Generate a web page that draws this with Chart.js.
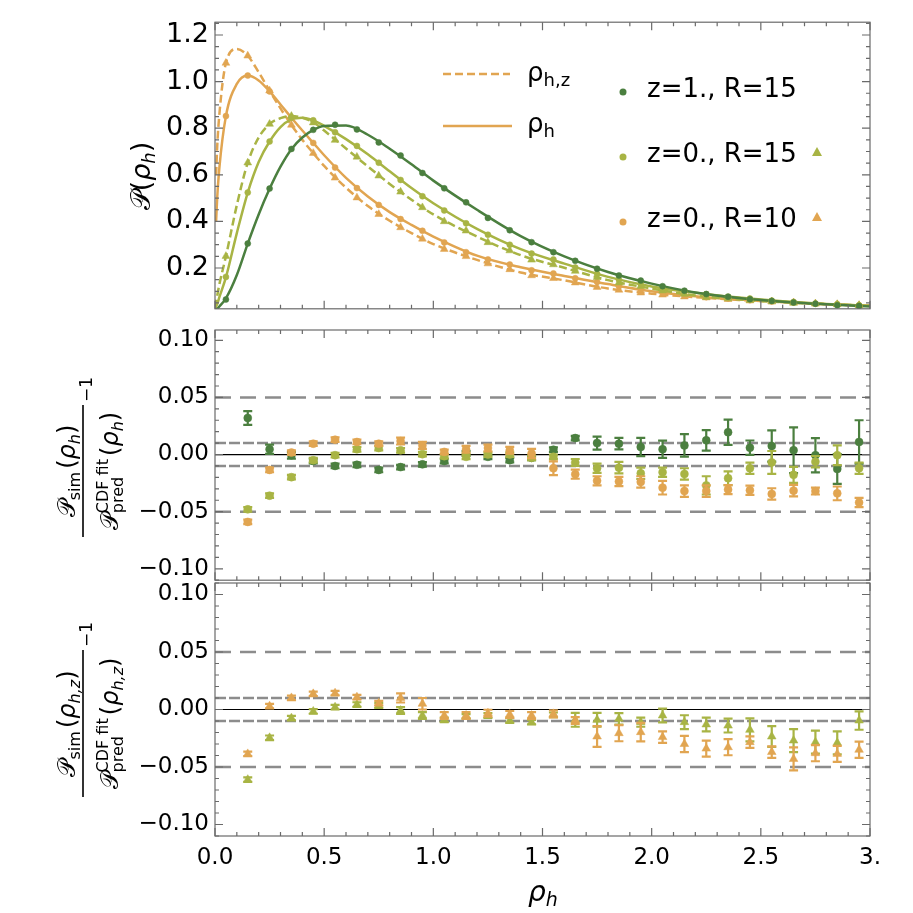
<!DOCTYPE html>
<html>
<head>
<meta charset="utf-8">
<script src="https://cdn.jsdelivr.net/npm/chart.js@4.4.1/dist/chart.umd.min.js"></script>
<style>
  body { margin: 0; background: #fff; }
  #wrap { position: relative; width: 913px; height: 913px; }
  #wrap canvas { position: absolute; left: 0; }
</style>
</head>
<body>
<div id="wrap">
  <canvas id="c1" width="913" height="331" style="top:0px"></canvas>
  <canvas id="c2" width="913" height="300" style="top:300px"></canvas>
  <canvas id="c3" width="913" height="353" style="top:560px"></canvas>
</div>
<script>
const FONT = "'DejaVu Sans', 'Liberation Sans', sans-serif";
const C_DARK = '#4b7f3f';
const C_LIGHT = '#a8b444';
const C_ORANGE = '#e1a551';
const C_REF = '#8c8c8c';

// bin centres of the simulated points
const xBins = [0.05, 0.15, 0.25, 0.35, 0.45, 0.55, 0.65, 0.75, 0.85, 0.95,
               1.05, 1.15, 1.25, 1.35, 1.45, 1.55, 1.65, 1.75, 1.85, 1.95,
               2.05, 2.15, 2.25, 2.35, 2.45, 2.55, 2.65, 2.75, 2.85, 2.95];

// top panel: simulated P(rho)
const pDarkCirc = [0.065, 0.305, 0.541, 0.711, 0.793, 0.815, 0.795, 0.739, 0.683, 0.608,
                   0.542, 0.482, 0.415, 0.362, 0.311, 0.268, 0.231, 0.197, 0.168, 0.146,
                   0.122, 0.103, 0.088, 0.077, 0.066, 0.059, 0.052, 0.047, 0.040, 0.037];
const pLightCirc = [0.162, 0.524, 0.743, 0.845, 0.834, 0.783, 0.724, 0.652, 0.578, 0.508,
                    0.447, 0.392, 0.343, 0.300, 0.262, 0.237, 0.202, 0.175, 0.150, 0.131,
                    0.112, 0.100, 0.088, 0.077, 0.069, 0.060, 0.054, 0.047, 0.044, 0.040];
const pLightTri = [0.251, 0.652, 0.818, 0.852, 0.824, 0.749, 0.677, 0.596, 0.527, 0.460,
                   0.400, 0.360, 0.310, 0.275, 0.235, 0.215, 0.187, 0.160, 0.137, 0.122,
                   0.103, 0.088, 0.075, 0.069, 0.062, 0.056, 0.050, 0.047, 0.044, 0.040];
const pOrangeCirc = [0.852, 1.026, 0.958, 0.845, 0.737, 0.631, 0.543, 0.471, 0.410, 0.360,
                     0.310, 0.268, 0.237, 0.215, 0.190, 0.177, 0.156, 0.140, 0.122, 0.106,
                     0.094, 0.084, 0.075, 0.069, 0.062, 0.056, 0.052, 0.047, 0.044, 0.040];
const pOrangeTri = [1.080, 1.111, 0.961, 0.814, 0.693, 0.587, 0.502, 0.431, 0.374, 0.325,
                    0.281, 0.250, 0.219, 0.194, 0.168, 0.156, 0.137, 0.118, 0.106, 0.094,
                    0.085, 0.077, 0.073, 0.066, 0.060, 0.056, 0.052, 0.047, 0.044, 0.040];

// top panel: predicted curves
const xCurve = [0, 0.005, 0.01, 0.02, 0.05, 0.1, 0.15, 0.2, 0.25, 0.3, 0.35, 0.4, 0.45, 0.5,
                0.6, 0.7, 0.8, 0.9, 1.0, 1.2, 1.4, 1.6, 1.8, 2.0, 2.2, 2.4, 2.6, 2.8, 3.0];
const curveDark = [0.02, 0.022, 0.025, 0.035, 0.07, 0.17, 0.305, 0.43, 0.54, 0.635, 0.71, 0.76, 0.793, 0.81,
                   0.812, 0.772, 0.712, 0.645, 0.575, 0.45, 0.337, 0.25, 0.183, 0.133, 0.095, 0.071, 0.055, 0.044, 0.035];
const curveLight = [0.025, 0.035, 0.045, 0.075, 0.16, 0.35, 0.524, 0.655, 0.743, 0.805, 0.838, 0.845, 0.834, 0.81,
                    0.753, 0.688, 0.615, 0.543, 0.478, 0.368, 0.281, 0.219, 0.162, 0.121, 0.094, 0.073, 0.057, 0.046, 0.038];
const curveLightZ = [0.03, 0.055, 0.08, 0.13, 0.25, 0.47, 0.652, 0.76, 0.818, 0.843, 0.852, 0.845, 0.826, 0.79,
                     0.713, 0.636, 0.561, 0.493, 0.43, 0.335, 0.255, 0.201, 0.148, 0.112, 0.082, 0.065, 0.053, 0.045, 0.038];
const curveOrange = [null, 0.4, 0.5, 0.63, 0.852, 0.99, 1.026, 1.005, 0.958, 0.902, 0.845, 0.79, 0.737, 0.684,
                     0.587, 0.507, 0.44, 0.385, 0.335, 0.253, 0.203, 0.166, 0.131, 0.1, 0.079, 0.065, 0.054, 0.045, 0.038];
const curveOrangeZ = [null, 0.6, 0.72, 0.86, 1.08, 1.14, 1.111, 1.04, 0.961, 0.885, 0.814, 0.75, 0.693, 0.638,
                      0.545, 0.466, 0.403, 0.35, 0.303, 0.235, 0.181, 0.147, 0.112, 0.09, 0.075, 0.063, 0.054, 0.045, 0.038];

// residual panels
const xRes = [0.15, 0.25, 0.35, 0.45, 0.55, 0.65, 0.75, 0.85, 0.95, 1.05,
              1.15, 1.25, 1.35, 1.45, 1.55, 1.65, 1.75, 1.85, 1.95, 2.05,
              2.15, 2.25, 2.35, 2.45, 2.55, 2.65, 2.75, 2.85, 2.95];
const resDark = [0.032, 0.0046, -0.0006, -0.0057, -0.010, -0.009, -0.0135, -0.011, -0.0086, -0.0057,
                 0.0009, -0.002, -0.0049, -0.0029, 0.0042, 0.0144, 0.010, 0.0095, 0.0066, 0.0046,
                 0.008, 0.0124, 0.0195, 0.006, 0.0075, 0.0037, -0.0006, -0.0126, 0.011];
const resDarkErr = [0.006, 0.004, 0.003, 0.002, 0.002, 0.002, 0.002, 0.002, 0.002, 0.002,
                    0.002, 0.002, 0.002, 0.002, 0.002, 0.002, 0.0057, 0.005, 0.008, 0.0075,
                    0.0098, 0.009, 0.011, 0.0063, 0.0137, 0.020, 0.015, 0.013, 0.019];
const resLight = [-0.048, -0.036, -0.0198, -0.0049, -0.0006, 0.0046, 0.0057, 0.0037, 0.0003, -0.0014,
                  -0.002, 0, 0, -0.0029, -0.002, -0.0069, -0.012, -0.0115, -0.0164, -0.0155,
                  -0.017, -0.027, -0.0207, -0.012, -0.0069, -0.0178, -0.0063, -0.0006, -0.012];
const resLightErr = [0.002, 0.002, 0.002, 0.002, 0.002, 0.002, 0.002, 0.002, 0.002, 0.002,
                     0.002, 0.002, 0.002, 0.002, 0.002, 0.003, 0.004, 0.005, 0.005, 0.004,
                     0.005, 0.008, 0.006, 0.005, 0.01, 0.007, 0.005, 0.0086, 0.005];
const resOrange = [-0.059, -0.0135, 0.0017, 0.0095, 0.013, 0.011, 0.0095, 0.0118, 0.008, 0.0023,
                   0.0046, 0.0057, 0.0037, 0.0009, -0.012, -0.0172, -0.023, -0.0236, -0.024, -0.029,
                   -0.032, -0.032, -0.0307, -0.0313, -0.0345, -0.0316, -0.032, -0.034, -0.042];
const resOrangeErr = [0.002, 0.002, 0.002, 0.002, 0.002, 0.002, 0.002, 0.003, 0.003, 0.002,
                      0.003, 0.003, 0.003, 0.004, 0.006, 0.004, 0.004, 0.004, 0.005, 0.006,
                      0.005, 0.005, 0.004, 0.004, 0.005, 0.005, 0.003, 0.006, 0.004];
const resLightZ = [-0.061, -0.0246, -0.0075, -0.0017, 0.002, 0.0043, 0.0035, -0.0009, -0.0052, -0.009,
                   -0.006, -0.0052, -0.0096, -0.011, -0.0046, -0.009, -0.009, -0.0081, -0.011, -0.0052,
                   -0.011, -0.013, -0.014, -0.0177, -0.0235, -0.027, -0.0284, -0.029, -0.0096];
const resLightZErr = [0.002, 0.002, 0.002, 0.002, 0.002, 0.002, 0.002, 0.003, 0.003, 0.002,
                      0.002, 0.002, 0.002, 0.002, 0.002, 0.006, 0.006, 0.005, 0.004, 0.006,
                      0.006, 0.006, 0.006, 0.01, 0.009, 0.01, 0.01, 0.01, 0.008];
const resOrangeZ = [-0.0386, 0.0029, 0.0101, 0.0136, 0.0142, 0.0107, 0.0055, 0.0101, 0.005, -0.0052,
                    -0.0052, -0.0032, -0.0043, -0.0052, -0.0038, -0.0096, -0.0235, -0.0206, -0.0197, -0.024,
                    -0.030, -0.034, -0.0328, -0.0284, -0.037, -0.043, -0.038, -0.0386, -0.035];
const resOrangeZErr = [0.002, 0.002, 0.002, 0.002, 0.002, 0.002, 0.002, 0.004, 0.005, 0.003,
                       0.003, 0.003, 0.003, 0.003, 0.003, 0.003, 0.009, 0.007, 0.008, 0.005,
                       0.007, 0.007, 0.007, 0.005, 0.005, 0.01, 0.007, 0.007, 0.007];

const refDashed = [0.05, -0.05];
const refDashedNear = [0.01, -0.01];

// ticks and labels
const xTickVals = [0, 0.5, 1, 1.5, 2, 2.5, 3];
const xTickLabels = ['0.0', '0.5', '1.0', '1.5', '2.0', '2.5', '3.'];
const yTicksTop = [0.2, 0.4, 0.6, 0.8, 1.0, 1.2];
const yTicksRes = [-0.1, -0.05, 0, 0.05, 0.1];
const legendLabels = ['z=1., R=15', 'z=0., R=15', 'z=0., R=10'];

Chart.defaults.font.family = FONT;
Chart.defaults.color = '#000';

const pts = (xs, ys) => xs.map((x, i) => ({ x: x, y: ys[i] })).filter(p => p.y !== null);

function markers(ys, xs, color, style, r, errs) {
  return {
    data: pts(xs, ys), errs: errs, showLine: false, order: 0,
    pointStyle: style, pointRadius: r, pointHoverRadius: r,
    backgroundColor: color, borderColor: color, pointBorderWidth: 0.5
  };
}
function curve(ys, color, dashed) {
  return {
    data: pts(xCurve, ys), showLine: true, order: 1, pointRadius: 0, pointHoverRadius: 0,
    borderColor: color, borderWidth: 2.5, borderDash: dashed ? [8, 4] : [],
    cubicInterpolationMode: 'monotone'
  };
}
function hline(v, color, width, dash) {
  return {
    data: [{ x: 0, y: v }, { x: 3, y: v }], showLine: true, order: 5, pointRadius: 0,
    borderColor: color, borderWidth: width, borderDash: dash
  };
}

// rich text helper: parts = [{t, s, it, dy}]
function runs(ctx, parts, x, y, measureOnly) {
  let w = 0;
  for (const p of parts) {
    ctx.font = (p.it ? 'italic ' : '') + p.s + 'px ' + FONT;
    if (!measureOnly) ctx.fillText(p.t, x + w, y + (p.dy || 0));
    w += ctx.measureText(p.t).width;
  }
  return w;
}

function fracTitle(ctx, cx, cy, barLen, sub) {
  const num = [{ t: '𝒫', s: 24 }, { t: 'sim', s: 16, dy: 5 }, { t: ' ', s: 10 },
               { t: '(', s: 24 }, { t: 'ρ', s: 24, it: 1 }, { t: sub, s: 16, it: 1, dy: 5 }, { t: ')', s: 24 }];
  const arg = [{ t: ' ', s: 10 }, { t: '(', s: 24 }, { t: 'ρ', s: 24, it: 1 },
               { t: sub, s: 16, it: 1, dy: 5 }, { t: ')', s: 24 }];
  ctx.save();
  ctx.translate(cx, cy);
  ctx.rotate(-Math.PI / 2);
  ctx.fillStyle = '#000';
  ctx.textAlign = 'left';
  ctx.textBaseline = 'alphabetic';
  const wn = runs(ctx, num, 0, 0, true);
  runs(ctx, num, -wn / 2, -8);
  ctx.font = '24px ' + FONT;
  const wP = ctx.measureText('𝒫').width;
  ctx.font = '16px ' + FONT;
  const wS = Math.max(ctx.measureText('CDF fit').width, ctx.measureText('pred').width);
  const wa = runs(ctx, arg, 0, 0, true);
  const x0 = -(wP + wS + wa) / 2;
  ctx.font = '24px ' + FONT;
  ctx.fillText('𝒫', x0, 35);
  ctx.font = '16px ' + FONT;
  ctx.fillText('CDF fit', x0 + wP, 25);
  ctx.fillText('pred', x0 + wP, 40);
  runs(ctx, arg, x0 + wP + wS, 35);
  ctx.fillRect(-barLen / 2, -0.8, barLen, 1.6);
  ctx.font = '17px ' + FONT;
  ctx.fillText('−1', barLen / 2 + 3, 9);
  ctx.restore();
}

// error bars drawn under each marker set
const errorBars = {
  id: 'errorBars',
  beforeDatasetDraw(chart, args) {
    const ds = chart.data.datasets[args.index];
    if (!ds.errs) return;
    const { ctx, scales: { x, y } } = chart;
    ctx.save();
    ctx.strokeStyle = ds.backgroundColor;
    ctx.lineWidth = 2.2;
    ds.data.forEach((p, i) => {
      const e = ds.errs[i];
      const px = x.getPixelForValue(p.x);
      const y1 = y.getPixelForValue(p.y - e), y2 = y.getPixelForValue(p.y + e);
      ctx.beginPath();
      ctx.moveTo(px, y1); ctx.lineTo(px, y2);
      ctx.moveTo(px - 4.5, y1); ctx.lineTo(px + 4.5, y1);
      ctx.moveTo(px - 4.5, y2); ctx.lineTo(px + 4.5, y2);
      ctx.stroke();
    });
    ctx.restore();
  }
};

// Mathematica-like frame with inward ticks on all sides
const frame = {
  id: 'frame',
  afterDatasetsDraw(chart, args, opts) {
    const { ctx, chartArea: a, scales: { x, y } } = chart;
    ctx.save();
    ctx.strokeStyle = '#6a6a6a';
    ctx.lineWidth = 1.2;
    ctx.strokeRect(a.left, a.top, a.right - a.left, a.bottom - a.top);
    ctx.beginPath();
    for (let k = 0; k <= 30; k++) {
      const px = x.getPixelForValue(k / 10);
      const len = k % 5 === 0 ? 8 : 4;
      ctx.moveTo(px, a.bottom); ctx.lineTo(px, a.bottom - len);
      ctx.moveTo(px, a.top); ctx.lineTo(px, a.top + len);
    }
    const n0 = Math.ceil(y.min / opts.minor - 1e-6), n1 = Math.floor(y.max / opts.minor + 1e-6);
    for (let k = n0; k <= n1; k++) {
      const v = k * opts.minor;
      const py = y.getPixelForValue(v);
      const major = Math.abs(v / opts.major - Math.round(v / opts.major)) < 1e-6;
      const len = major ? 8 : 4;
      ctx.moveTo(a.left, py); ctx.lineTo(a.left + len, py);
      ctx.moveTo(a.right, py); ctx.lineTo(a.right - len, py);
    }
    ctx.stroke();
    ctx.restore();
  }
};

function yScale(min, max, ticksList, size, digits) {
  return {
    min: min, max: max,
    afterFit(s) { s.width = 215; },
    afterBuildTicks(s) { s.ticks = ticksList.map(v => ({ value: v })); },
    ticks: {
      font: { size: size }, color: '#000', padding: 6,
      callback: v => (v < -1e-9 ? '−' : '') + Math.abs(v).toFixed(digits)
    },
    grid: { display: false, drawTicks: false },
    border: { display: false }
  };
}
const xHidden = { type: 'linear', min: 0, max: 3, display: false };
const common = {
  responsive: false, animation: false,
  plugins: { legend: { display: false }, tooltip: { enabled: false } }
};

// ---- top panel ----
const topLabels = {
  id: 'topLabels',
  afterDraw(chart) {
    const ctx = chart.ctx;
    ctx.save();
    ctx.fillStyle = '#000';
    ctx.textBaseline = 'alphabetic';
    // y title
    const t = [{ t: '𝒫', s: 27 }, { t: '(', s: 27 }, { t: 'ρ', s: 27, it: 1 }, { t: 'h', s: 18, it: 1, dy: 5 }, { t: ')', s: 27 }];
    ctx.save();
    ctx.translate(150, 176);
    ctx.rotate(-Math.PI / 2);
    const w = runs(ctx, t, 0, 0, true);
    runs(ctx, t, -w / 2, 0);
    ctx.restore();
    // line legend
    ctx.strokeStyle = C_ORANGE;
    ctx.lineWidth = 2.5;
    ctx.setLineDash([8, 4]);
    ctx.beginPath(); ctx.moveTo(443, 74); ctx.lineTo(510, 74); ctx.stroke();
    ctx.setLineDash([]);
    ctx.beginPath(); ctx.moveTo(443, 126); ctx.lineTo(512, 126); ctx.stroke();
    runs(ctx, [{ t: 'ρ', s: 26 }, { t: 'h,z', s: 18, dy: 5 }], 527, 81);
    runs(ctx, [{ t: 'ρ', s: 26 }, { t: 'h', s: 18, dy: 5 }], 527, 132);
    // marker legend
    const cols = [C_DARK, C_LIGHT, C_ORANGE];
    const rowY = [97, 162, 227];
    ctx.font = '26px ' + FONT;
    cols.forEach((c, i) => {
      ctx.fillStyle = c;
      ctx.beginPath(); ctx.arc(623, rowY[i] - 5, 3.5, 0, Math.PI * 2); ctx.fill();
      if (i > 0) {
        const ty = rowY[i] - 10;
        ctx.beginPath(); ctx.moveTo(817, ty - 5); ctx.lineTo(822, ty + 4); ctx.lineTo(812, ty + 4); ctx.closePath(); ctx.fill();
      }
      ctx.fillStyle = '#000';
      ctx.fillText(legendLabels[i], 647, rowY[i]);
    });
    ctx.restore();
  }
};

new Chart(document.getElementById('c1'), {
  type: 'scatter',
  data: {
    datasets: [
      markers(pDarkCirc, xBins, C_DARK, 'circle', 3),
      markers(pLightCirc, xBins, C_LIGHT, 'circle', 3),
      markers(pLightTri, xBins, C_LIGHT, 'triangle', 4.5),
      markers(pOrangeCirc, xBins, C_ORANGE, 'circle', 3),
      markers(pOrangeTri, xBins, C_ORANGE, 'triangle', 4.5),
      curve(curveDark, C_DARK, false),
      curve(curveLight, C_LIGHT, false),
      curve(curveLightZ, C_LIGHT, true),
      curve(curveOrange, C_ORANGE, false),
      curve(curveOrangeZ, C_ORANGE, true)
    ]
  },
  options: Object.assign({}, common, {
    layout: { padding: { left: 0, right: 43, top: 2, bottom: 2 } },
    scales: { x: xHidden, y: yScale(0.025, 1.255, yTicksTop, 27, 1) },
    plugins: Object.assign({}, common.plugins, { frame: { minor: 0.05, major: 0.2 } })
  }),
  plugins: [frame, topLabels]
});

// ---- residual panels ----
function refLines() {
  return [
    hline(0, '#000', 1.2, []),
    ...refDashed.map(v => hline(v, C_REF, 2.5, [16, 9])),
    ...refDashedNear.map(v => hline(v, C_REF, 2.5, [11, 3]))
  ];
}

new Chart(document.getElementById('c2'), {
  type: 'scatter',
  data: {
    datasets: [
      markers(resOrange, xRes, C_ORANGE, 'circle', 4, resOrangeErr),
      markers(resLight, xRes, C_LIGHT, 'circle', 4, resLightErr),
      markers(resDark, xRes, C_DARK, 'circle', 4, resDarkErr),
      ...refLines()
    ]
  },
  options: Object.assign({}, common, {
    layout: { padding: { left: 0, right: 43, top: 30, bottom: 18 } },
    scales: { x: xHidden, y: yScale(-0.11, 0.109, yTicksRes, 23, 2) },
    plugins: Object.assign({}, common.plugins, { frame: { minor: 0.01, major: 0.05 } })
  }),
  plugins: [errorBars, frame, {
    id: 'midTitle',
    afterDraw(chart) { fracTitle(chart.ctx, 83, 171, 132, 'h'); }
  }]
});

new Chart(document.getElementById('c3'), {
  type: 'scatter',
  data: {
    datasets: [
      markers(resOrangeZ, xRes, C_ORANGE, 'triangle', 5, resOrangeZErr),
      markers(resLightZ, xRes, C_LIGHT, 'triangle', 5, resLightZErr),
      ...refLines()
    ]
  },
  options: Object.assign({}, common, {
    layout: { padding: { left: 0, right: 43, top: 23, bottom: 0 } },
    scales: {
      x: {
        type: 'linear', min: 0, max: 3,
        afterFit(s) { s.height = 77; },
        afterBuildTicks(s) { s.ticks = xTickVals.map(v => ({ value: v })); },
        ticks: { font: { size: 23 }, color: '#000', padding: 8, maxRotation: 0, autoSkip: false,
                 callback: (v, i) => xTickLabels[i] },
        grid: { display: false, drawTicks: false },
        border: { display: false }
      },
      y: yScale(-0.11, 0.11, yTicksRes, 23, 2)
    },
    plugins: Object.assign({}, common.plugins, { frame: { minor: 0.01, major: 0.05 } })
  }),
  plugins: [errorBars, frame, {
    id: 'botTitles',
    afterDraw(chart) {
      const ctx = chart.ctx;
      fracTitle(ctx, 83, 163.5, 147, 'h,z');
      ctx.save();
      ctx.fillStyle = '#000';
      const t = [{ t: 'ρ', s: 28, it: 1 }, { t: 'h', s: 19, it: 1, dy: 5 }];
      const w = runs(ctx, t, 0, 0, true);
      runs(ctx, t, 543 - w / 2, 341);
      ctx.restore();
    }
  }]
});
</script>
</body>
</html>
